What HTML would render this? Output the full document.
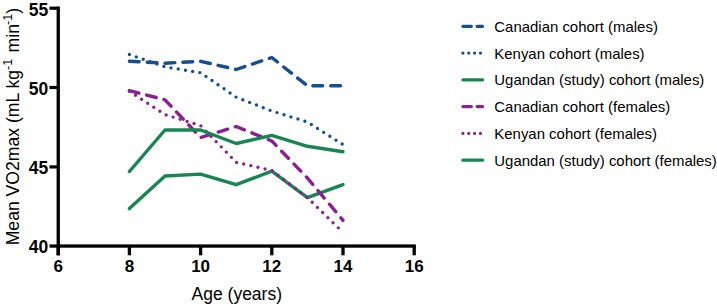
<!DOCTYPE html>
<html><head><meta charset="utf-8"><style>
html,body{margin:0;padding:0;background:#fff;}
body{width:717px;height:306px;overflow:hidden;}
svg{display:block;font-family:"Liberation Sans",sans-serif;}
</style></head><body>
<svg width="717" height="306" viewBox="0 0 717 306">
<rect width="717" height="306" fill="#fff"/>
<g fill="none" stroke-width="3.4" stroke-linecap="round" stroke-linejoin="round">
<polyline points="129.4,208.6 165.0,176.0 200.6,174.1 236.2,184.7 271.8,171.2 307.4,197.7 343.0,184.6" stroke="#188552" />
<polyline points="129.4,91.2 165.0,114.6 200.6,125.6 236.2,162.3 271.8,170.5 307.4,197.6 343.0,232.5" stroke="#8a2191" stroke-dasharray="0 7.3"/>
<polyline points="129.4,90.6 165.0,99.8 200.6,137.5 236.2,126.5 271.8,141.0 307.4,178.0 343.0,220.3" stroke="#8a2191" stroke-dasharray="9.8 8.05"/>
<polyline points="129.4,171.5 165.0,130.0 200.6,130.0 236.2,143.5 271.8,135.4 307.4,146.3 343.0,151.8" stroke="#188552" />
<polyline points="129.4,54.5 165.0,66.9 200.6,72.7 236.2,97.2 271.8,111.0 307.4,122.0 343.0,144.6" stroke="#174f8e" stroke-dasharray="0 7.3"/>
<polyline points="129.4,61.2 165.0,63.2 200.6,61.3 236.2,69.5 271.8,57.5 307.4,85.8 343.0,85.8" stroke="#174f8e" stroke-dasharray="9.8 8.05"/>
</g>
<g fill="#000">
<rect x="56.6" y="6.6" width="3.3" height="248.7"/>
<rect x="49.5" y="244.4" width="366.3" height="3.3"/>
<rect x="49.5" y="6.6" width="9" height="3.2"/>
<rect x="49.5" y="85.9" width="9" height="3.2"/>
<rect x="49.5" y="165.3" width="9" height="3.2"/>
<rect x="56.55" y="246" width="3.3" height="9.3"/>
<rect x="127.75" y="246" width="3.3" height="9.3"/>
<rect x="198.95" y="246" width="3.3" height="9.3"/>
<rect x="270.15" y="246" width="3.3" height="9.3"/>
<rect x="341.35" y="246" width="3.3" height="9.3"/>
<rect x="412.55" y="246" width="3.3" height="9.3"/>
</g>
<g font-weight="bold" font-size="17.5" fill="#000">
<text x="48.3" y="15.5" text-anchor="end">55</text>
<text x="48.3" y="94.6" text-anchor="end">50</text>
<text x="48.3" y="173.8" text-anchor="end">45</text>
<text x="48.3" y="253.0" text-anchor="end">40</text>
</g>
<g font-weight="bold" font-size="17" fill="#000">
<text x="58.2" y="271.8" text-anchor="middle">6</text>
<text x="129.4" y="271.8" text-anchor="middle">8</text>
<text x="200.6" y="271.8" text-anchor="middle">10</text>
<text x="271.8" y="271.8" text-anchor="middle">12</text>
<text x="343.0" y="271.8" text-anchor="middle">14</text>
<text x="414.2" y="271.8" text-anchor="middle">16</text>
</g>
<text x="236.8" y="300.1" text-anchor="middle" font-size="17.5" fill="#000">Age (years)</text>
<text transform="translate(18.6,245.3) rotate(-90)" font-size="17.6" fill="#000">Mean VO2max (mL kg<tspan font-size="12.5" dy="-7">-1</tspan><tspan dy="7" dx="1.5"> min</tspan><tspan font-size="12.5" dy="-7" dx="-0.8">-1</tspan><tspan dy="7">)</tspan></text>
<g fill="none" stroke-width="3.2" stroke-linecap="round">
<line x1="462.9" y1="26.3" x2="482.6" y2="26.3" stroke="#174f8e" stroke-dasharray="8.5 5.7"/>
<line x1="462.9" y1="53.1" x2="482.6" y2="53.1" stroke="#174f8e" stroke-dasharray="0 5.85"/>
<line x1="462.9" y1="79.8" x2="482.6" y2="79.8" stroke="#188552" />
<line x1="462.9" y1="106.6" x2="482.6" y2="106.6" stroke="#8a2191" stroke-dasharray="8.5 5.7"/>
<line x1="462.9" y1="133.4" x2="482.6" y2="133.4" stroke="#8a2191" stroke-dasharray="0 5.85"/>
<line x1="462.9" y1="160.2" x2="482.6" y2="160.2" stroke="#188552" />
</g>
<g font-size="14.95" fill="#000">
<text x="494.3" y="31.6">Canadian cohort (males)</text>
<text x="494.3" y="58.5">Kenyan cohort (males)</text>
<text x="494.3" y="85.3">Ugandan (study) cohort (males)</text>
<text x="494.3" y="112.2">Canadian cohort (females)</text>
<text x="494.3" y="139.0">Kenyan cohort (females)</text>
<text x="494.3" y="165.9">Ugandan (study) cohort (females)</text>
</g>
</svg>
</body></html>
